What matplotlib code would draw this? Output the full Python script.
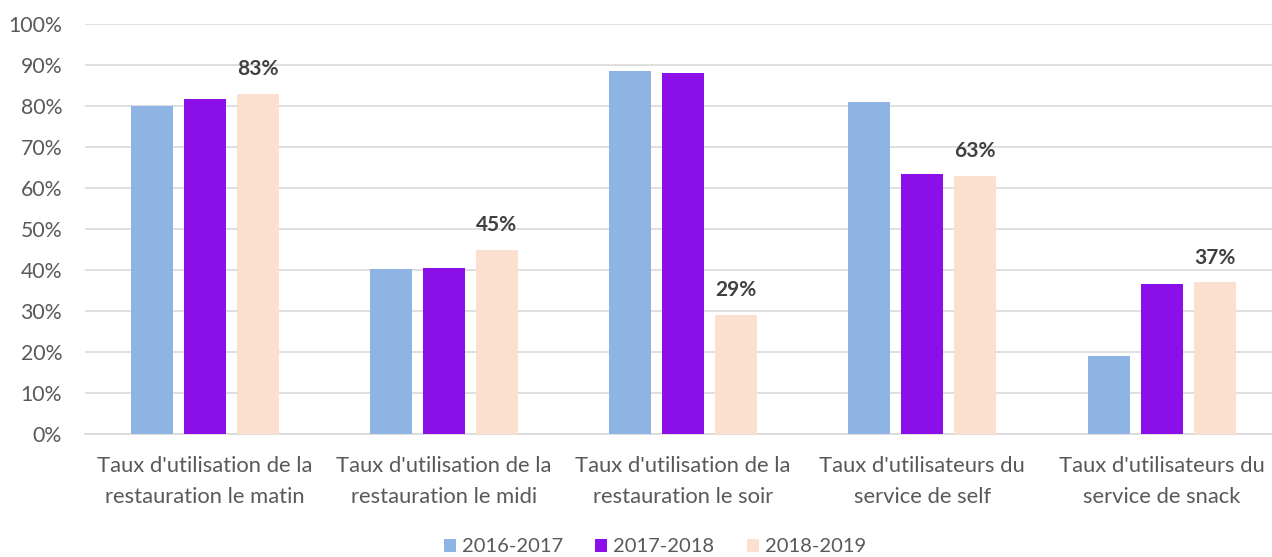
import matplotlib
matplotlib.use("Agg")
import matplotlib.pyplot as plt
import numpy as np
from matplotlib.ticker import PercentFormatter

categories = ["Taux d'utilisation de la\nrestauration le matin",
              "Taux d'utilisation de la\nrestauration le midi",
              "Taux d'utilisation de la\nrestauration le soir",
              "Taux d'utilisateurs du\nservice de self",
              "Taux d'utilisateurs du\nservice de snack"]
series_names = ["2016-2017", "2017-2018", "2018-2019"]
v2016 = [80.1, 40.3, 88.5, 81.0, 19.1]
v2017 = [81.8, 40.6, 88.1, 63.4, 36.7]
v2018 = [83.0, 45.0, 29.0, 63.0, 37.0]
labels_2018 = ["83%", "45%", "29%", "63%", "37%"]

colors = ["#8EB4E3", "#8B0FE8", "#FBDFCF"]

plt.rcParams['font.family'] = ['Lato', 'DejaVu Sans']
fig = plt.figure(figsize=(12.72, 5.57), dpi=100)
ax = fig.add_axes([85/1272, 1-434/557, 1187/1272, 410/557])

x = np.arange(len(categories))
w = 0.1755
step = 0.2215
for i, (vals, c, n) in enumerate(zip([v2016, v2017, v2018], colors, series_names)):
    bars = ax.bar(x + (i - 1) * step, vals, width=w, color=c, label=n, zorder=3)
    if i == 2:
        for b, lab in zip(bars, labels_2018):
            ax.text(b.get_x() + b.get_width() / 2, b.get_height() + 3.6, lab,
                    ha='center', va='bottom', fontsize=15, fontweight='bold',
                    color='#404040')

ax.set_xlim(-0.5, -0.5 + 1187/239.25)
ax.set_ylim(0, 100)
ax.set_yticks(np.arange(0, 101, 10))
ax.yaxis.set_major_formatter(PercentFormatter(decimals=0))
ax.grid(axis='y', color='#D9D9D9', linewidth=1.2, zorder=0)
for s in ['top', 'right', 'left']:
    ax.spines[s].set_visible(False)
ax.spines['bottom'].set_color('#D9D9D9')
ax.spines['bottom'].set_linewidth(1.2)
ax.tick_params(axis='y', length=0, labelsize=15.3, labelcolor='#595959', pad=16.5)
ax.tick_params(axis='x', length=0, labelsize=15.8, labelcolor='#595959', pad=16)
ax.set_xticks(x)
ax.set_xticklabels(categories, linespacing=1.7)

fig.legend(loc='center', bbox_to_anchor=(655/1272, 1-547/557), ncol=3, frameon=False,
           fontsize=14.5, handlelength=0.6, handleheight=0.6, handletextpad=0.3,
           columnspacing=1.6, labelcolor='#595959', borderpad=0)

fig.savefig("out.png", dpi=100)
